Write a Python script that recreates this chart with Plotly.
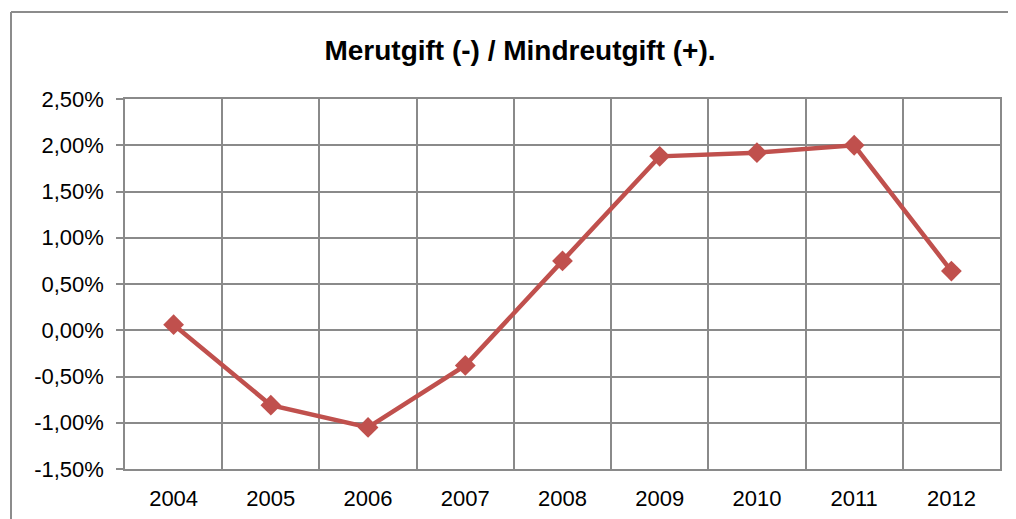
import plotly.graph_objects as go

years = ["2004", "2005", "2006", "2007", "2008", "2009", "2010", "2011", "2012"]
values = [0.06, -0.81, -1.05, -0.38, 0.75, 1.88, 1.92, 2.00, 0.64]
ytick_vals = [-1.5, -1.0, -0.5, 0.0, 0.5, 1.0, 1.5, 2.0, 2.5]
ytick_text = ["-1,50%", "-1,00%", "-0,50%", "0,00%", "0,50%", "1,00%", "1,50%", "2,00%", "2,50%"]
title_text = "Merutgift (-) / Mindreutgift (+)."

# page body has an 8px offset
OFF = 8
W, H = 1016, 519
L, R, T, B = 125 - OFF, 16 + OFF, 99 - OFF, 50 + OFF
pw, ph = W - L - R, H - T - B

def px(x):
    return (x - OFF - L) / pw

def py(y):
    return (H - B - (y - OFF)) / ph

grid = "#8a8a8a"
font = "Liberation Sans, Arial, sans-serif"

fig = go.Figure()
fig.add_trace(go.Scatter(
    x=years, y=values, mode="lines+markers",
    line=dict(color="#C0504D", width=4.5),
    marker=dict(symbol="diamond", size=16, color="#C0504D"),
    showlegend=False, hoverinfo="skip",
))

fig.update_layout(
    width=W, height=H,
    margin=dict(l=L, r=R, t=T, b=B),
    paper_bgcolor="white", plot_bgcolor="white",
    font=dict(family=font, color="black", size=22),
    title=dict(text="<b>" + title_text + "</b>", x=(520 - OFF) / W, xanchor="center",
               y=1 - (50 - OFF) / H, yanchor="middle",
               font=dict(family=font, size=28, color="black")),
    xaxis=dict(
        type="category", tickson="boundaries", showgrid=True, gridcolor=grid, gridwidth=1.5,
        ticks="", showline=True, linecolor=grid, linewidth=1.5, mirror=True,
        tickfont=dict(size=22), ticklabelstandoff=9, range=[-0.5, 8.5],
    ),
    yaxis=dict(
        range=[-1.5, 2.5], tickvals=ytick_vals, ticktext=ytick_text,
        showgrid=True, gridcolor=grid, gridwidth=1.5, zeroline=False,
        ticks="outside", ticklen=7, tickcolor=grid, tickwidth=1.5,
        showline=True, linecolor=grid, linewidth=1.5, mirror=True,
        tickfont=dict(size=22), ticklabelstandoff=8,
    ),
    shapes=[
        dict(type="line", xref="paper", yref="paper", x0=px(11), x1=px(11), y0=py(540), y1=py(12),
             line=dict(color="#8c8c8c", width=2)),
        dict(type="line", xref="paper", yref="paper", x0=px(11), x1=px(1040), y0=py(12), y1=py(12),
             line=dict(color="#8c8c8c", width=2)),
    ],
)

fig.write_html("out.html", config={"displayModeBar": False})
